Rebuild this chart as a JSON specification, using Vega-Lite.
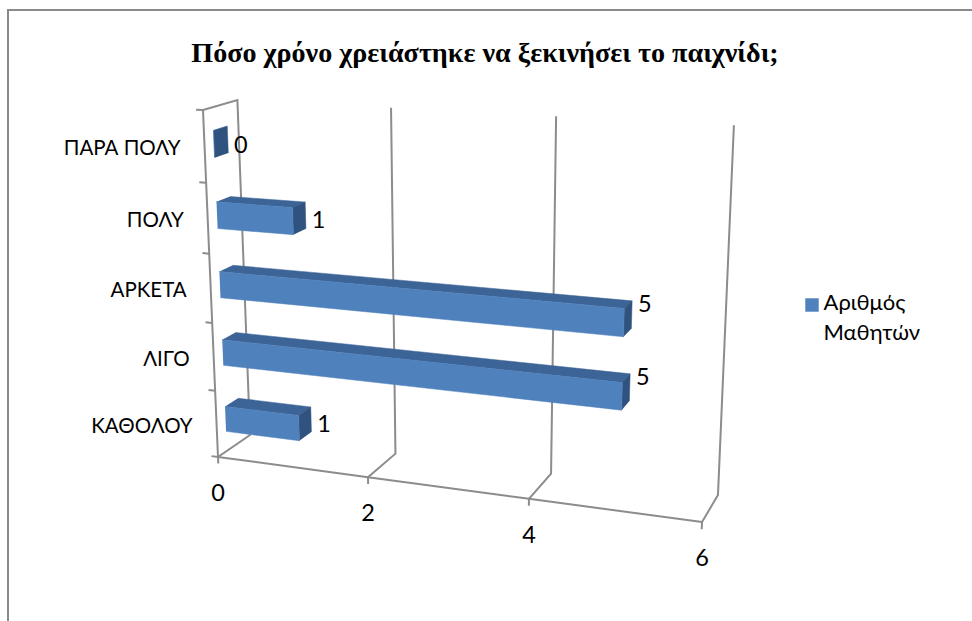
{
  "$schema": "https://vega.github.io/schema/vega-lite/v6.json",
  "width": 972,
  "height": 621,
  "padding": 0,
  "autosize": "none",
  "background": "#ffffff",
  "config": {"view": {"stroke": null}, "font": "Lato", "style": {"guide-label": {"lineHeight": 30, "dy": -2}}},
  "title": {
    "text": "Πόσο χρόνο χρειάστηκε να ξεκινήσει το παιχνίδι;",
    "font": "Liberation Serif",
    "fontSize": 28.1,
    "fontWeight": "bold",
    "color": "#000000",
    "anchor": "middle",
    "baseline": "middle",
    "dx": -1,
    "offset": -82
  },
  "datasets": {
    "bars": [
      {"category": "ΚΑΘΟΛΟΥ", "rank": 0, "value": 1},
      {"category": "ΛΙΓΟ", "rank": 1, "value": 5},
      {"category": "ΑΡΚΕΤΑ", "rank": 2, "value": 5},
      {"category": "ΠΟΛΥ", "rank": 3, "value": 1},
      {"category": "ΠΑΡΑ ΠΟΛΥ", "rank": 4, "value": 0}
    ],
    "valueTicks": [{"tick": 0}, {"tick": 2}, {"tick": 4}, {"tick": 6}],
    "categoryTicks": [{"c": 0}, {"c": 1}, {"c": 2}, {"c": 3}, {"c": 4}, {"c": 5}]
  },
  "encoding": {
    "x": {"field": "X", "type": "quantitative", "axis": null, "scale": {"domain": [0, 972], "nice": false, "zero": false}},
    "y": {"field": "Y", "type": "quantitative", "axis": null, "scale": {"domain": [621, 0], "nice": false, "zero": false}}
  },
  "layer": [
    {
      "data": {"values": [{"X": 8, "Y": 621, "k": 0}, {"X": 8, "Y": 10, "k": 1}, {"X": 972, "Y": 10, "k": 2}]},
      "mark": {"type": "line", "stroke": "#8a8a8a", "strokeWidth": 2},
      "encoding": {"order": {"field": "k"}}
    },
    {
      "name": "walls",
      "data": {"name": "valueTicks"},
      "transform": [
        {"calculate": "[{k:0,c:-0.1,d:0},{k:1,c:0,d:0},{k:2,c:0,d:1},{k:3,c:5,d:1},{k:4,c:5,d:0}]", "as": "p"},
        {"flatten": ["p"]},
        {"filter": "datum.p.k < 4 || datum.tick == 0"},
        {"calculate": "1 - 0.01697*datum.tick - 0.01127*datum.p.c + 0.0378*datum.p.d", "as": "D"},
        {"calculate": "(218 + 68.76*datum.tick - 5.29*datum.p.c + 41.45*datum.p.d)/datum.D", "as": "X"},
        {"calculate": "(457 + 1.98*datum.tick - 70.64*datum.p.c - 5.56*datum.p.d)/datum.D", "as": "Y"}
      ],
      "mark": {"type": "line", "stroke": "#8c8c8c", "strokeWidth": 2},
      "encoding": {"detail": {"field": "tick"}, "order": {"field": "p.k"}}
    },
    {
      "name": "valueBaseline",
      "data": {"name": "valueTicks"},
      "transform": [
        {"calculate": "1 - 0.01697*datum.tick", "as": "D"},
        {"calculate": "(218 + 68.76*datum.tick)/datum.D", "as": "X"},
        {"calculate": "(457 + 1.98*datum.tick)/datum.D", "as": "Y"}
      ],
      "mark": {"type": "line", "stroke": "#8c8c8c", "strokeWidth": 2},
      "encoding": {"order": {"field": "tick"}}
    },
    {
      "name": "categoryBaseline",
      "data": {"name": "categoryTicks"},
      "transform": [
        {"calculate": "1 - 0.01127*datum.c", "as": "D"},
        {"calculate": "(218 - 5.29*datum.c)/datum.D", "as": "X"},
        {"calculate": "(457 - 70.64*datum.c)/datum.D", "as": "Y"}
      ],
      "mark": {"type": "line", "stroke": "#8c8c8c", "strokeWidth": 2},
      "encoding": {"order": {"field": "c"}}
    },
    {
      "name": "categoryTickMarks",
      "data": {"name": "categoryTicks"},
      "transform": [
        {"calculate": "[-0.09, 0]", "as": "v"},
        {"flatten": ["v"]},
        {"calculate": "1 - 0.01697*datum.v - 0.01127*datum.c", "as": "D"},
        {"calculate": "(218 + 68.76*datum.v - 5.29*datum.c)/datum.D", "as": "X"},
        {"calculate": "(457 + 1.98*datum.v - 70.64*datum.c)/datum.D", "as": "Y"}
      ],
      "mark": {"type": "line", "stroke": "#8c8c8c", "strokeWidth": 2},
      "encoding": {"detail": {"field": "c"}, "order": {"field": "v"}}
    },
    {
      "name": "barFaces",
      "data": {"name": "bars"},
      "transform": [
        {"calculate": "[{k:0,u:0,w:1,t:0},{k:1,u:1,w:1,t:0},{k:2,u:1,w:1,t:1},{k:3,u:0,w:1,t:1}]", "as": "p"},
        {"flatten": ["p"]},
        {"calculate": "datum.p.u*datum.value", "as": "v"},
        {"calculate": "datum.rank + 0.3 + 0.38*datum.p.w", "as": "c"},
        {"calculate": "0.27 + 0.4*datum.p.t", "as": "d"},
        {"calculate": "1 - 0.01697*datum.v - 0.01127*datum.c + 0.0378*datum.d", "as": "D"},
        {"calculate": "(218 + 68.76*datum.v - 5.29*datum.c + 41.45*datum.d)/datum.D", "as": "X"},
        {"calculate": "(457 + 1.98*datum.v - 70.64*datum.c - 5.56*datum.d)/datum.D", "as": "Y"}
      ],
      "mark": {"type": "line", "fill": "#3c6496", "stroke": "#3c6496", "strokeWidth": 0.5},
      "encoding": {"detail": {"field": "category"}, "order": {"field": "p.k"}}
    },
    {
      "name": "barEnds",
      "data": {"name": "bars"},
      "transform": [
        {"calculate": "[{k:0,w:0,t:0},{k:1,w:1,t:0},{k:2,w:1,t:1},{k:3,w:0,t:1}]", "as": "p"},
        {"flatten": ["p"]},
        {"calculate": "datum.rank + 0.3 + 0.38*datum.p.w", "as": "c"},
        {"calculate": "0.27 + 0.4*datum.p.t", "as": "d"},
        {"calculate": "1 - 0.01697*datum.value - 0.01127*datum.c + 0.0378*datum.d", "as": "D"},
        {"calculate": "(218 + 68.76*datum.value - 5.29*datum.c + 41.45*datum.d)/datum.D", "as": "X"},
        {"calculate": "(457 + 1.98*datum.value - 70.64*datum.c - 5.56*datum.d)/datum.D", "as": "Y"}
      ],
      "mark": {"type": "line", "fill": "#30527f", "stroke": "#30527f", "strokeWidth": 0.5},
      "encoding": {"detail": {"field": "category"}, "order": {"field": "p.k"}}
    },
    {
      "name": "barFronts",
      "data": {"name": "bars"},
      "transform": [
        {"calculate": "'Αριθμός Μαθητών'", "as": "series"},
        {"calculate": "[{k:0,u:0,w:0},{k:1,u:1,w:0},{k:2,u:1,w:1},{k:3,u:0,w:1}]", "as": "p"},
        {"flatten": ["p"]},
        {"calculate": "datum.p.u*datum.value", "as": "v"},
        {"calculate": "datum.rank + 0.3 + 0.38*datum.p.w", "as": "c"},
        {"calculate": "1 - 0.01697*datum.v - 0.01127*datum.c + 0.0102", "as": "D"},
        {"calculate": "(218 + 68.76*datum.v - 5.29*datum.c + 11.19)/datum.D", "as": "X"},
        {"calculate": "(457 + 1.98*datum.v - 70.64*datum.c - 1.5)/datum.D", "as": "Y"}
      ],
      "mark": {"type": "line", "stroke": "#4f81bd", "strokeWidth": 0.5},
      "encoding": {
        "detail": {"field": "category"},
        "order": {"field": "p.k"},
        "fill": {
          "field": "series",
          "type": "nominal",
          "scale": {"range": ["#4f81bd"]},
          "legend": {
            "title": null,
            "orient": "none",
            "legendX": 801,
            "legendY": 294,
            "symbolType": "square",
            "symbolSize": 180,
            "symbolStrokeWidth": 0,
            "labelFont": "Lato",
            "labelFontSize": 22,
            "labelColor": "#000000",
            "labelOffset": 0.5,
            "labelLimit": 200,
            "labelExpr": "['Αριθμός', 'Μαθητών']"
          }
        }
      }
    },
    {
      "name": "valueLabels",
      "data": {"name": "bars"},
      "transform": [
        {"calculate": "datum.rank + 0.49", "as": "c"},
        {"calculate": "1 - 0.01697*datum.value - 0.01127*datum.c + 0.0253", "as": "D"},
        {"calculate": "(218 + 68.76*datum.value - 5.29*datum.c + 27.8)/datum.D", "as": "X"},
        {"calculate": "(457 + 1.98*datum.value - 70.64*datum.c - 3.7)/datum.D + (datum.value >= 5 ? -10 : 6)", "as": "Y"}
      ],
      "mark": {"type": "text", "font": "Lato", "fontSize": 23.5, "color": "#000000", "align": "center", "baseline": "middle", "dx": 13},
      "encoding": {"text": {"field": "value", "type": "quantitative"}}
    },
    {
      "name": "categoryLabels",
      "data": {"name": "bars"},
      "transform": [
        {"calculate": "datum.rank + 0.5", "as": "c"},
        {"calculate": "1 - 0.01127*datum.c", "as": "D"},
        {"calculate": "(218 - 5.29*datum.c)/datum.D", "as": "X"},
        {"calculate": "(457 - 70.64*datum.c)/datum.D", "as": "Y"}
      ],
      "mark": {"type": "text", "font": "Lato", "fontSize": 20.5, "color": "#000000", "align": "right", "baseline": "middle", "dx": -24, "dy": 2.5},
      "encoding": {"text": {"field": "category", "type": "nominal"}}
    },
    {
      "name": "valueAxisLabels",
      "data": {"name": "valueTicks"},
      "transform": [
        {"calculate": "1 - 0.01697*datum.tick", "as": "D"},
        {"calculate": "(218 + 68.76*datum.tick)/datum.D", "as": "X"},
        {"calculate": "(457 + 1.98*datum.tick)/datum.D + 37", "as": "Y"}
      ],
      "mark": {"type": "text", "font": "Lato", "fontSize": 23.5, "color": "#000000", "align": "center", "baseline": "middle"},
      "encoding": {"text": {"field": "tick", "type": "quantitative"}}
    }
  ]
}
